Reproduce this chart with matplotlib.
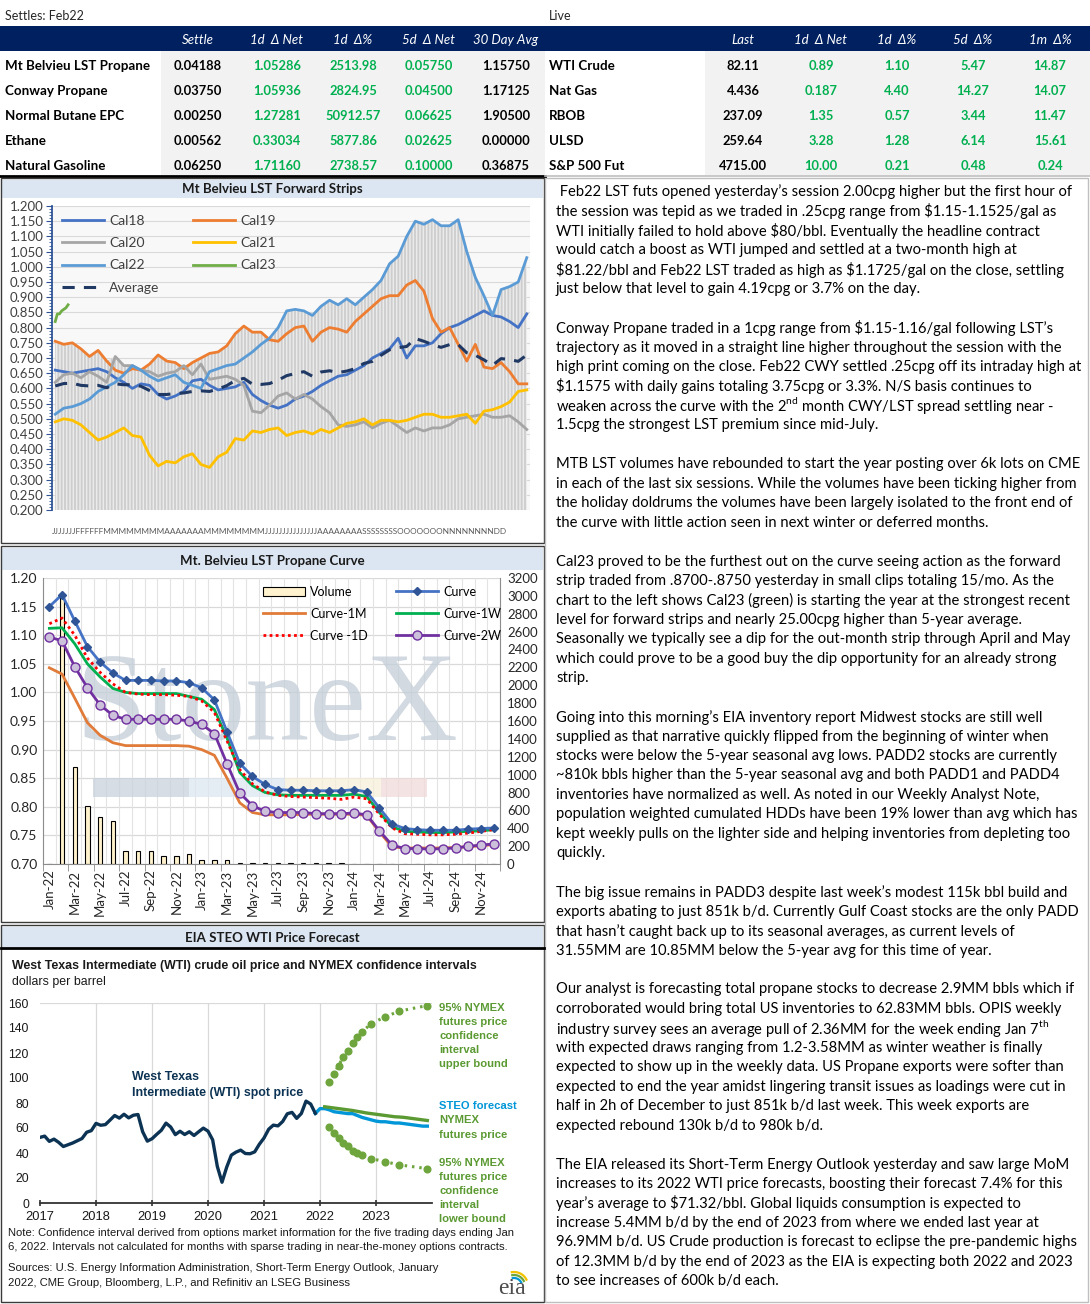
import numpy as np
import pandas as pd
import matplotlib
matplotlib.use("Agg")
import matplotlib.pyplot as plt
from matplotlib.patches import Rectangle, Patch
from matplotlib.lines import Line2D
from matplotlib.ticker import MultipleLocator, FuncFormatter

plt.rcParams['font.family'] = ['Lato', 'DejaVu Sans']
plt.rcParams['mathtext.fontset'] = 'custom'
plt.rcParams['mathtext.rm'] = 'Lato'
plt.rcParams['hatch.linewidth'] = 1.3

# ------------------------------------------------------------------ DATA
settle_title = "Settles: Feb22"
settle_rows = ["Mt Belvieu LST Propane", "Conway Propane", "Normal Butane EPC", "Ethane", "Natural Gasoline"]
settle_cols = ["Settle", "1d  Δ Net", "1d  Δ%", "5d  Δ Net", "30 Day Avg"]
settle_val = ["0.04188", "0.03750", "0.00250", "0.00562", "0.06250"]
settle_net1d = ["1.05286", "1.05936", "1.27281", "0.33034", "1.71160"]
settle_pct1d = ["2513.98", "2824.95", "50912.57", "5877.86", "2738.57"]
settle_net5d = ["0.05750", "0.04500", "0.06625", "0.02625", "0.10000"]
settle_avg30 = ["1.15750", "1.17125", "1.90500", "0.00000", "0.36875"]

live_title = "Live"
live_rows = ["WTI Crude", "Nat Gas", "RBOB", "ULSD", "S&P 500 Fut"]
live_cols = ["Last", "1d  Δ Net", "1d  Δ%", "5d  Δ%", "1m  Δ%"]
live_last = ["82.11", "4.436", "237.09", "259.64", "4715.00"]
live_net1d = ["0.89", "0.187", "1.35", "3.28", "10.00"]
live_pct1d = ["1.10", "4.40", "0.57", "1.28", "0.21"]
live_pct5d = ["5.47", "14.27", "3.44", "6.14", "0.48"]
live_pct1m = ["14.87", "14.07", "11.47", "15.61", "0.24"]

# Forward strips (sampled every 4 trading days)
strip_days = np.arange(56) * 4
cal18 = [.66, .655, .65, .655, .66, .665, .655, .635, .62, .60, .615, .61, .58, .565, .575, .59,
         .625, .63, .61, .595, .60, .605, .62, .58, .56, .545, .535, .545, .565, .575, .59, .61,
         .625, .64, .645, .66, .675, .70, .715, .73, .765, .70, .74, .74, .75, .78, .80, .81,
         .825, .84, .855, .84, .835, .82, .80, .845]
cal19 = [.755, .745, .75, .73, .705, .725, .69, .66, .65, .665, .66, .68, .71, .69, .685, .665,
         .685, .70, .715, .72, .74, .78, .805, .785, .785, .76, .755, .78, .80, .805, .755, .785,
         .80, .795, .785, .82, .845, .87, .895, .905, .905, .94, .955, .92, .83, .785, .80, .745,
         .69, .745, .67, .665, .685, .655, .615, .615]
cal20 = [.62, .645, .65, .635, .655, .64, .62, .705, .675, .675, .66, .655, .64, .65, .655, .675,
         .645, .68, .63, .635, .64, .63, .61, .525, .52, .545, .575, .585, .565, .58, .565, .54,
         .52, .48, .475, .48, .49, .47, .485, .495, .475, .455, .47, .46, .47, .47, .48, .50,
         .505, .51, .515, .505, .505, .51, .49, .465]
cal21 = [.49, .50, .495, .48, .455, .43, .44, .455, .47, .445, .44, .38, .345, .36, .355, .375,
         .385, .35, .34, .375, .39, .435, .43, .46, .455, .465, .47, .445, .455, .46, .45, .465,
         .455, .47, .485, .49, .50, .48, .495, .495, .49, .495, .505, .515, .515, .505, .505, .51,
         .515, .485, .525, .53, .54, .555, .59, .595]
cal22 = [.515, .535, .54, .55, .565, .59, .605, .62, .645, .675, .66, .64, .625, .635, .645, .62,
         .61, .60, .655, .665, .675, .68, .70, .72, .745, .765, .80, .855, .86, .855, .84, .87,
         .89, .875, .895, .875, .90, .925, .955, 1.01, 1.035, 1.10, 1.15, 1.14, 1.155, 1.135, 1.135, 1.155,
         1.05, .965, .905, .84, .925, .935, .95, 1.03]
cal23_days = np.arange(7)
cal23 = [.82, .845, .845, .855, .86, .865, .875]
strip_letters = list("JJJJJJJFFFFFFMMMMMMMMAAAAAAAMMMMMMMMJJJJJJJJJJJJJJJAAAAAAAASSSSSSSSOOOOOOONNNNNNNNDD")

# Propane curve
curve_months = list(pd.date_range("2022-01-01", periods=36, freq="MS").strftime("%b-%y"))
curve = [1.150, 1.171, 1.125, 1.080, 1.053, 1.034, 1.021, 1.021, 1.021, 1.020, 1.020, 1.017,
         1.008, 0.987, 0.931, 0.876, 0.853, 0.839, 0.830, 0.829, 0.829, 0.828, 0.828, 0.828,
         0.830, 0.826, 0.798, 0.770, 0.762, 0.760, 0.759, 0.759, 0.759, 0.761, 0.762, 0.763]
curve_1d = [1.120, 1.130, 1.100, 1.060, 1.035, 1.015, 1.000, 0.997, 0.996, 0.996, 0.995, 0.993,
            0.985, 0.965, 0.915, 0.865, 0.840, 0.826, 0.820, 0.818, 0.817, 0.816, 0.815, 0.813,
            0.817, 0.814, 0.787, 0.763, 0.753, 0.752, 0.751, 0.751, 0.752, 0.754, 0.757, 0.760]
curve_1w = [1.112, 1.113, 1.085, 1.050, 1.027, 1.007, 1.000, 0.998, 0.998, 0.998, 0.998, 0.993,
            0.988, 0.970, 0.920, 0.860, 0.837, 0.825, 0.821, 0.820, 0.820, 0.820, 0.820, 0.820,
            0.822, 0.818, 0.790, 0.765, 0.757, 0.756, 0.755, 0.755, 0.756, 0.757, 0.758, 0.760]
curve_2w = [1.097, 1.090, 1.045, 1.008, 0.978, 0.960, 0.953, 0.953, 0.953, 0.953, 0.953, 0.950,
            0.944, 0.928, 0.875, 0.824, 0.802, 0.792, 0.790, 0.790, 0.790, 0.788, 0.788, 0.788,
            0.789, 0.786, 0.758, 0.733, 0.727, 0.727, 0.726, 0.727, 0.728, 0.731, 0.733, 0.735]
curve_1m = [1.043, 1.032, 0.990, 0.947, 0.925, 0.912, 0.907, 0.907, 0.907, 0.907, 0.907, 0.906,
            0.900, 0.890, 0.850, 0.807, 0.790, 0.786, 0.786, 0.786, 0.787, 0.787, 0.787, 0.787,
            0.787, 0.785, 0.756, 0.730, 0.728, 0.728, 0.728, 0.728, 0.729, 0.730, 0.732, 0.734]
volume = [0, 3000, 1085, 645, 522, 477, 142, 142, 142, 86, 86, 112,
          45, 45, 45, 11, 8, 8, 8, 8, 8, 8, 8, 8,
          0, 0, 0, 0, 0, 0, 0, 0, 0, 0, 0, 0]

# EIA STEO
wti_spot = [52.5, 53.5, 49.3, 51.1, 48.5, 45.2, 46.6, 48.0, 49.8, 51.6, 56.6, 57.9,
            63.7, 62.2, 62.7, 66.3, 70.0, 67.9, 71.0, 68.1, 70.2, 70.8, 57.0, 49.5,
            51.4, 54.9, 58.2, 63.9, 60.8, 54.7, 57.4, 54.8, 57.0, 54.0, 57.0, 59.9,
            57.5, 50.5, 29.2, 16.6, 28.6, 38.3, 40.7, 42.3, 39.6, 39.4, 40.9, 47.0,
            52.0, 59.0, 62.3, 61.7, 65.2, 71.4, 72.5, 67.7, 71.6, 81.5, 79.2, 71.7]
steo_fcst = [75.5, 75.5, 74.5, 73.0, 72.5, 72.0, 71.5, 71.5, 70.0, 68.5, 67.5, 66.5,
             65.5, 65.0, 65.0, 64.5, 64.0, 64.0, 63.5, 63.0, 62.5, 62.0, 61.5, 61.5]
nymex_fut = [77.0, 76.5, 76.0, 75.5, 75.0, 74.5, 74.0, 73.3, 72.7, 72.0, 71.5, 71.0,
             70.5, 70.0, 69.5, 69.0, 68.8, 68.5, 68.0, 67.5, 67.0, 66.5, 66.0]
ci_months = [2, 3, 4, 5, 6, 7, 8, 9, 11, 14, 17, 23]
ci_upper = [96.5, 103, 110, 117, 122, 128, 133, 137, 143.5, 149, 153.5, 158]
ci_lower = [61, 56, 52, 48, 45.5, 42, 40, 38.5, 35.5, 33, 30.5, 27.5]
eia_years = [2017, 2018, 2019, 2020, 2021, 2022, 2023]

paragraphs = [
    [" Feb22 LST futs opened yesterday’s session 2.00cpg higher but the first hour of",
     "the session was tepid as we traded in .25cpg range from \\$1.15-1.1525/gal as",
     "WTI initially failed to hold above \\$80/bbl. Eventually the headline contract",
     "would catch a boost as WTI jumped and settled at a two-month high at",
     "\\$81.22/bbl and Feb22 LST traded as high as \\$1.1725/gal on the close, settling",
     "just below that level to gain 4.19cpg or 3.7% on the day."],
    ["Conway Propane traded in a 1cpg range from \\$1.15-1.16/gal following LST’s",
     "trajectory as it moved in a straight line higher throughout the session with the",
     "high print coming on the close. Feb22 CWY settled .25cpg off its intraday high at",
     "\\$1.1575 with daily gains totaling 3.75cpg or 3.3%. N/S basis continues to",
     r"weaken across the curve with the 2$^{\mathrm{nd}}$ month CWY/LST spread settling near -",
     "1.5cpg the strongest LST premium since mid-July."],
    ["MTB LST volumes have rebounded to start the year posting over 6k lots on CME",
     "in each of the last six sessions. While the volumes have been ticking higher from",
     "the holiday doldrums the volumes have been largely isolated to the front end of",
     "the curve with little action seen in next winter or deferred months."],
    ["Cal23 proved to be the furthest out on the curve seeing action as the forward",
     "strip traded from .8700-.8750 yesterday in small clips totaling 15/mo. As the",
     "chart to the left shows Cal23 (green) is starting the year at the strongest recent",
     "level for forward strips and nearly 25.00cpg higher than 5-year average.",
     "Seasonally we typically see a dip for the out-month strip through April and May",
     "which could prove to be a good buy the dip opportunity for an already strong",
     "strip."],
    ["Going into this morning’s EIA inventory report Midwest stocks are still well",
     "supplied as that narrative quickly flipped from the beginning of winter when",
     "stocks were below the 5-year seasonal avg lows. PADD2 stocks are currently",
     "~810k bbls higher than the 5-year seasonal avg and both PADD1 and PADD4",
     "inventories have normalized as well. As noted in our Weekly Analyst Note,",
     "population weighted cumulated HDDs have been 19% lower than avg which has",
     "kept weekly pulls on the lighter side and helping inventories from depleting too",
     "quickly."],
    ["The big issue remains in PADD3 despite last week’s modest 115k bbl build and",
     "exports abating to just 851k b/d. Currently Gulf Coast stocks are the only PADD",
     "that hasn’t caught back up to its seasonal averages, as current levels of",
     "31.55MM are 10.85MM below the 5-year avg for this time of year."],
    ["Our analyst is forecasting total propane stocks to decrease 2.9MM bbls which if",
     "corroborated would bring total US inventories to 62.83MM bbls. OPIS weekly",
     r"industry survey sees an average pull of 2.36MM for the week ending Jan 7$^{\mathrm{th}}$",
     "with expected draws ranging from 1.2-3.58MM as winter weather is finally",
     "expected to show up in the weekly data. US Propane exports were softer than",
     "expected to end the year amidst lingering transit issues as loadings were cut in",
     "half in 2h of December to just 851k b/d last week. This week exports are",
     "expected rebound 130k b/d to 980k b/d."],
    ["The EIA released its Short-Term Energy Outlook yesterday and saw large MoM",
     "increases to its 2022 WTI price forecasts, boosting their forecast 7.4% for this",
     "year’s average to \\$71.32/bbl. Global liquids consumption is expected to",
     "increase 5.4MM b/d by the end of 2023 from where we ended last year at",
     "96.9MM b/d. US Crude production is forecast to eclipse the pre-pandemic highs",
     "of 12.3MM b/d by the end of 2023 as the EIA is expecting both 2022 and 2023",
     "to see increases of 600k b/d each."],
]

# ------------------------------------------------------------------ FIGURE
W, H = 1090, 1304
fig = plt.figure(figsize=(W / 100, H / 100), dpi=100)


def rect(x, y, w, h):
    return [x / W, 1 - (y + h) / H, w / W, h / H]


bg = fig.add_axes([0, 0, 1, 1], label="bg")
bg.set_xlim(0, W); bg.set_ylim(H, 0); bg.axis("off")

NAVY = "#002060"
GREEN = "#00b050"
BAND = "#dce6f2"

# ---- tables background
bg.add_patch(Rectangle((0, 26), W, 25, color=NAVY, lw=0))
bg.add_patch(Rectangle((161, 51), 384, 124, color="#f2f2f2", lw=0))
bg.add_patch(Rectangle((705, 51), 385, 124, color="#f2f2f2", lw=0))
# ---- chart title bands
bg.add_patch(Rectangle((2, 180), 541, 18, color=BAND, lw=0))
bg.add_patch(Rectangle((2, 548), 541, 22, color=BAND, lw=0))
bg.add_patch(Rectangle((2, 927), 541, 20, color=BAND, lw=0))

# ------------------------------------------------------------------ FORWARD STRIPS
ax1 = fig.add_axes(rect(52, 206, 478, 304))
ax1.set_facecolor("#f8f8f8")
ax1.set_xlim(-1.5, 221.5)
ax1.set_ylim(0.2, 1.2)
strip_all = np.vstack([cal18, cal19, cal20, cal21, cal22])
envelope = strip_all.max(axis=0)
ax1.fill_between(strip_days, 0.2, envelope, facecolor="#ebebeb", edgecolor="#cdcdcd",
                 hatch="|||||", linewidth=0, zorder=1)
ax1.set_yticks(np.arange(0.2, 1.2001, 0.05))
ax1.yaxis.set_major_formatter(FuncFormatter(lambda v, p: f"{v:.3f}"))
ax1.yaxis.set_minor_locator(MultipleLocator(0.01))
ax1.yaxis.grid(True, color="#d9d9d9", lw=0.8, zorder=0)
ax1.set_axisbelow(True)
for s in ["top", "right", "bottom"]:
    ax1.spines[s].set_visible(False)
ax1.spines["left"].set_color("#2f5597")
ax1.spines["left"].set_linewidth(1.3)
ax1.tick_params(axis="y", which="major", length=4, color="#2f5597", labelsize=9.5,
                labelcolor="#404040", pad=2)
ax1.tick_params(axis="y", which="minor", length=2.5, color="#2f5597")
ax1.set_xticks([])

strip_colors = ["#4472c4", "#ed7d31", "#a5a5a5", "#ffc000", "#5b9bd5"]
strip_names = ["Cal18", "Cal19", "Cal20", "Cal21", "Cal22"]
h = {}
for name, vals, col in zip(strip_names, strip_all, strip_colors):
    h[name], = ax1.plot(strip_days, vals, color=col, lw=2, zorder=3, label=name)
h["Cal23"], = ax1.plot(cal23_days, cal23, color="#70ad47", lw=2, zorder=3, label="Cal23")
h["Average"], = ax1.plot(strip_days, strip_all.mean(axis=0), color="#203864", lw=2.2,
                         ls=(0, (4, 3)), zorder=4, label="Average")
leg1 = ax1.legend([h[k] for k in ["Cal18", "Cal20", "Cal22", "Average", "Cal19", "Cal21", "Cal23"]],
                  ["Cal18", "Cal20", "Cal22", "Average", "Cal19", "Cal21", "Cal23"],
                  ncol=2, loc="upper left", bbox_to_anchor=(-0.005, 1.012), frameon=False,
                  fontsize=10, handlelength=3.0, columnspacing=2.4, labelspacing=0.74,
                  handletextpad=0.4)
for t in leg1.get_texts():
    t.set_color("#404040")

# ------------------------------------------------------------------ PROPANE CURVE
ax2 = fig.add_axes(rect(43, 578, 457, 286))
ax2b = ax2.twinx()
ax2.set_zorder(ax2b.get_zorder() + 1)
ax2.patch.set_visible(False)
xm = np.arange(len(curve_months))
ax2.set_xlim(-0.5, len(curve_months) - 0.5)
ax2.set_ylim(0.70, 1.20)
ax2b.set_ylim(0, 3200)
for v in np.arange(0.70, 1.2001, 0.05):
    ax2b.axhline((v - 0.70) / 0.50 * 3200, color="#d9d9d9", lw=0.9, zorder=0)
for b in np.arange(-0.5, len(curve_months), 1.0):
    ax2b.axvline(b, color="#e3e3e3", lw=0.8, zorder=0)
ax2b.text(0.49, 0.54, "StoneX", transform=ax2b.transAxes, fontsize=92,
          family=["Liberation Serif", "DejaVu Serif"], color="#c3cdd8", alpha=0.75,
          ha="center", va="center", zorder=0.5)
for fx, fw, fc in [(0.11, 0.21, "#c9d2dc"), (0.32, 0.21, "#dde7f1"), (0.53, 0.21, "#f6efd9"),
                   (0.74, 0.10, "#f1dada")]:
    ax2b.add_patch(Rectangle((fx, 0.235), fw, 0.065, transform=ax2b.transAxes, color=fc,
                             alpha=0.75, lw=0, zorder=0.5))
bars = ax2b.bar(xm, volume, width=0.35, color="#fff2cc", edgecolor="black", lw=0.8,
                zorder=2, label="Volume")
ax2b.set_yticks(np.arange(0, 3201, 200))
ax2b.tick_params(axis="y", labelsize=9.5, length=0, pad=5, labelcolor="#262626")
for s in ax2b.spines.values():
    s.set_visible(False)

l_curve, = ax2.plot(xm, curve, color="#4472c4", lw=2, marker="D", ms=4.5,
                    mfc="#2f5597", mec="#2f5597", zorder=6, label="Curve")
l_1m, = ax2.plot(xm, curve_1m, color="#e07b39", lw=2, zorder=3, label="Curve-1M")
l_1w, = ax2.plot(xm, curve_1w, color="#00b050", lw=2, zorder=4, label="Curve-1W")
l_1d, = ax2.plot(xm, curve_1d, color="#ff0000", lw=2, ls=(0, (1, 1.2)), zorder=5, label="Curve -1D")
l_2w, = ax2.plot(xm, curve_2w, color="#7030a0", lw=2, marker="o", ms=6.5,
                 mfc="#ccc0da", mec="#7030a0", mew=1, zorder=4, label="Curve-2W")
ax2.set_yticks(np.arange(0.70, 1.2001, 0.05))
ax2.yaxis.set_major_formatter(FuncFormatter(lambda v, p: f"{v:.2f}"))
ax2.tick_params(axis="y", labelsize=10, length=0, pad=4, labelcolor="#262626")
ax2.set_xticks(xm[::2])
ax2.set_xticklabels(curve_months[::2], rotation=90, fontsize=9.5, color="#262626")
ax2.set_xticks(np.arange(-0.5, len(curve_months), 2.0), minor=True)
ax2.tick_params(axis="x", which="major", length=0, pad=4)
ax2.tick_params(axis="x", which="minor", length=5, color="#8c8c8c")
ax2.spines["top"].set_visible(False)
for s in ["left", "bottom", "right"]:
    ax2.spines[s].set_color("#8c8c8c")
vol_handle = Patch(facecolor="#fff2cc", edgecolor="black", lw=0.8)
leg2 = ax2.legend([vol_handle, l_1m, l_1d, l_curve, l_1w, l_2w],
                  ["Volume", "Curve-1M", "Curve -1D", "Curve", "Curve-1W", "Curve-2W"],
                  ncol=2, loc="upper left", bbox_to_anchor=(0.465, 1.0), frameon=False,
                  fontsize=9, handlelength=3.35, columnspacing=2.3, labelspacing=0.8,
                  handletextpad=0.4, borderaxespad=0.2)

# ------------------------------------------------------------------ EIA STEO
ax3 = fig.add_axes(rect(40, 1003, 392, 200))
ax3.set_facecolor("none")
ax3.set_xlim(2017, 2024)
ax3.set_ylim(0, 160)
x_spot = 2017 + np.arange(len(wti_spot)) / 12
x_steo = 2022 + np.arange(len(steo_fcst)) / 12
x_nym = 2022 + (1 + np.arange(len(nymex_fut))) / 12
x_ci = 2022 + np.array(ci_months) / 12
for yr in eia_years[1:]:
    ax3.axvline(yr, color="#d9d9d9", lw=0.9, zorder=0)
ax3.axhline(160, color="#d9d9d9", lw=0.9, zorder=0)
ax3.plot(np.concatenate(([x_spot[-1]], x_steo)), np.concatenate(([wti_spot[-1]], steo_fcst)),
         color="#0096d7", lw=2.4, zorder=3)
ax3.plot(x_nym, nymex_fut, color="#5b9a32", lw=2.4, zorder=3)
ax3.plot(x_spot, wti_spot, color="#0c3353", lw=2.4, zorder=4)
for ci in (ci_upper, ci_lower):
    ax3.plot(x_ci, ci, color="#6ea53c", lw=2.2, ls=(0, (0.8, 1.6)), marker="o", ms=4.8,
             zorder=3)
ax3.set_yticks(np.arange(0, 161, 20))
ax3.set_xticks(eia_years)
ax3.tick_params(axis="y", length=0, labelsize=8.8, pad=8, labelcolor="#1a1a1a")
ax3.tick_params(axis="x", length=5, width=1.2, color="#333333", direction="inout",
                labelsize=9.3, labelcolor="#1a1a1a", pad=3)
for lab in ax3.get_xticklabels() + ax3.get_yticklabels():
    lab.set_family(["Liberation Sans", "DejaVu Sans"])
for s in ["top", "right", "left"]:
    ax3.spines[s].set_visible(False)
ax3.spines["bottom"].set_color("#333333")
ax3.spines["bottom"].set_linewidth(1.3)

# ------------------------------------------------------------------ TOP LAYER (texts, borders)
top = fig.add_axes([0, 0, 1, 1], label="top", zorder=10)
top.set_xlim(0, W); top.set_ylim(H, 0); top.axis("off")
top.patch.set_visible(False)

# tables
top.text(5, 16, settle_title, fontsize=9, va="center", color="#262626")
top.text(549, 16, live_title, fontsize=9, va="center", color="#262626")
left_x = [198, 277, 353, 429, 506]
right_x = [743, 821, 897, 973, 1050]
row_y = [66, 91, 116, 141, 166]
for cx, lab in zip(left_x, settle_cols):
    top.text(cx, 40, lab, color="white", style="italic", fontsize=9.5, ha="center", va="center")
for cx, lab in zip(right_x, live_cols):
    top.text(cx, 40, lab, color="white", style="italic", fontsize=9.5, ha="center", va="center")
settle_cols_data = [settle_val, settle_net1d, settle_pct1d, settle_net5d, settle_avg30]
settle_colors = ["black", GREEN, GREEN, GREEN, "black"]
live_cols_data = [live_last, live_net1d, live_pct1d, live_pct5d, live_pct1m]
live_colors = ["black", GREEN, GREEN, GREEN, GREEN]
for i, ry in enumerate(row_y):
    top.text(5, ry, settle_rows[i], fontsize=9.6, weight="bold", va="center")
    top.text(549, ry, live_rows[i], fontsize=9.6, weight="bold", va="center")
    for cx, col, c in zip(left_x, settle_cols_data, settle_colors):
        top.text(cx, ry, col[i], fontsize=9.3, weight="bold", color=c, ha="center", va="center")
    for cx, col, c in zip(right_x, live_cols_data, live_colors):
        top.text(cx, ry, col[i], fontsize=9.3, weight="bold", color=c, ha="center", va="center")
top.plot([0, 545], [175.5, 175.5], color="black", lw=2)
top.plot([545, 1090], [175.5, 175.5], color="#bfbfbf", lw=1.2)

# forward-strip category letters (Excel packs them into one row)
letters_txt = top.text(279, 531, "".join(strip_letters), fontsize=8.5, ha="center", va="center",
                       color="#595959")

# chart panels
for (y0, y1) in [(178, 543), (546, 922), (925, 1302)]:
    top.add_patch(Rectangle((1, y0), 543, y1 - y0, fill=False, ec="#3a3a3a", lw=1.0))
top.plot([1, 544], [948, 948], color="black", lw=2)
top.add_patch(Rectangle((545, 178), 543, 1124, fill=False, ec="#bfbfbf", lw=1.0))
top.text(272, 189, "Mt Belvieu LST Forward Strips", fontsize=9.5, weight="bold",
         ha="center", va="center", color="#1a1a1a")
top.text(272, 561, "Mt. Belvieu LST Propane Curve", fontsize=9.5, weight="bold",
         ha="center", va="center", color="#1a1a1a")
top.text(272, 938, "EIA STEO WTI Price Forecast", fontsize=9.5, weight="bold",
         ha="center", va="center", color="#1a1a1a")

# EIA annotations
ARIAL = ["Liberation Sans", "DejaVu Sans"]
top.text(12, 966, "West Texas Intermediate (WTI) crude oil price and NYMEX confidence intervals",
         family=ARIAL, fontsize=8.9, weight="bold", va="center", color="#1a1a1a")
top.text(12, 982, "dollars per barrel", family=ARIAL, fontsize=8.9, va="center", color="#1a1a1a")
top.text(132, 1077, "West Texas", family=ARIAL, fontsize=8.9, weight="bold", va="center",
         color="#0c3353")
top.text(132, 1093, "Intermediate (WTI) spot price", family=ARIAL, fontsize=8.9, weight="bold",
         va="center", color="#0c3353")
EIAG = "#5b9a32"
for k, s in enumerate(["95% NYMEX", "futures price", "confidence", "interval", "upper bound"]):
    top.text(439, 1008 + 14 * k, s, family=ARIAL, fontsize=8.1, weight="bold", color=EIAG, va="center")
top.text(439, 1106, "STEO forecast", family=ARIAL, fontsize=8.1, weight="bold", color="#0096d7",
         va="center")
for k, s in enumerate(["NYMEX", "futures price"]):
    top.text(439, 1120 + 14.5 * k, s, family=ARIAL, fontsize=8.1, weight="bold", color=EIAG, va="center")
for k, s in enumerate(["95% NYMEX", "futures price", "confidence", "interval", "lower bound"]):
    top.text(439, 1163 + 14 * k, s, family=ARIAL, fontsize=8.1, weight="bold", color=EIAG, va="center")
foot = [(1233, "Note: Confidence interval derived from options market information for the five "
               "trading days ending Jan"),
        (1247, "6, 2022. Intervals not calculated for months with sparse trading in "
               "near-the-money options contracts."),
        (1268, "Sources: U.S. Energy Information Administration, Short-Term Energy Outlook, January"),
        (1283, "2022, CME Group, Bloomberg, L.P., and Refinitiv an LSEG Business")]
foot_objs = [top.text(8, fy, s, family=ARIAL, fontsize=8.1, va="center", color="#1a1a1a")
             for fy, s in foot]
top.text(512, 1289, "eia", family=["Liberation Serif", "DejaVu Serif"], fontsize=17,
         ha="center", va="center", color="#4d4d4d")
for r_, col in [(14, "#f2c200"), (11, "#6ea53c"), (8, "#0096d7")]:
    th = np.linspace(np.pi * 0.15, np.pi * 0.55, 20)
    top.plot(514 + r_ * np.cos(th), 1286 - r_ * np.sin(th), color=col, lw=1.6)

# right-hand commentary
text_objs = []
idx = 0
for para in paragraphs:
    for line in para:
        y = 192 + idx * 19.45
        text_objs.append(top.text(556, y, line, fontsize=10.6, va="center", color="black"))
        idx += 1
    idx += 1

fig.canvas.draw()
renderer = fig.canvas.get_renderer()


def fit(t, maxw):
    bb = t.get_window_extent(renderer=renderer)
    if bb.width > maxw:
        t.set_fontsize(t.get_fontsize() * maxw / bb.width)


for t in text_objs:
    fit(t, 527)
for t in foot_objs[:2]:
    fit(t, 512)
fit(letters_txt, 458)

fig.savefig("out.png", dpi=100, facecolor="white")
